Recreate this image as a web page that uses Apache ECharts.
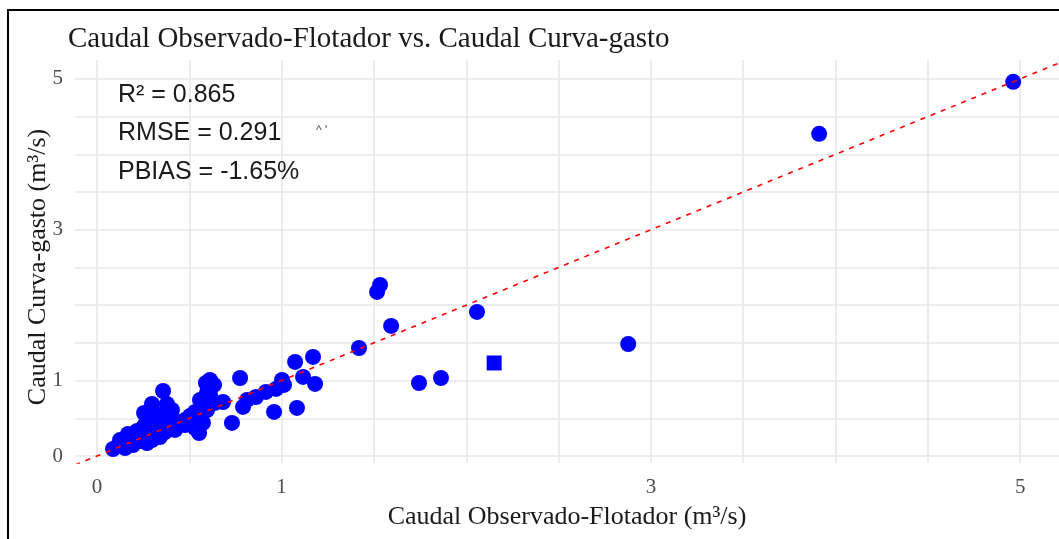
<!DOCTYPE html>
<html>
<head>
<meta charset="utf-8">
<script src="https://cdn.jsdelivr.net/npm/echarts@6/dist/echarts.min.js"></script>
<style>
  html, body { margin: 0; padding: 0; background: #fff; }
  #chart { width: 1059px; height: 539px; }
</style>
</head>
<body>
<div id="chart"></div>
<script>
// Caudal observado con flotador (x) frente a caudal de la curva de gasto (y), m³/s
const obsFlotador = [
  0.087, 0.114, 0.135, 0.125, 0.157, 0.179, 0.168, 0.200, 0.217, 0.233,
  0.249, 0.260, 0.276, 0.287, 0.303, 0.325, 0.341, 0.352, 0.233, 0.195,
  0.152, 0.260, 0.287, 0.314, 0.341, 0.368, 0.395, 0.423, 0.450, 0.477,
  0.504, 0.531, 0.547, 0.558, 0.531, 0.504, 0.477, 0.439, 0.395, 0.368,
  0.341, 0.298, 0.271, 0.358, 0.379, 0.298, 0.255, 0.406, 0.574, 0.553,
  0.612, 0.639, 0.596, 0.612, 0.634, 0.590, 0.731, 0.791, 0.813, 0.861,
  0.915, 0.970, 1.013, 1.002, 0.775, 0.959, 0.683, 0.558, 0.596, 1.083,
  1.073, 1.170, 1.116, 1.181, 1.419, 1.517, 1.533, 1.593, 1.744, 1.863,
  2.058, 2.877, 3.911, 4.962
];
const curvaGasto = [
  0.093, 0.133, 0.159, 0.212, 0.199, 0.239, 0.292, 0.265, 0.332, 0.305,
  0.371, 0.411, 0.345, 0.424, 0.477, 0.504, 0.544, 0.451, 0.199, 0.146,
  0.106, 0.252, 0.305, 0.358, 0.411, 0.464, 0.424, 0.345, 0.451, 0.477,
  0.531, 0.584, 0.504, 0.411, 0.371, 0.477, 0.411, 0.424, 0.371, 0.318,
  0.252, 0.212, 0.172, 0.862, 0.690, 0.690, 0.570, 0.610, 0.438, 0.305,
  0.809, 0.703, 0.610, 1.008, 0.942, 0.968, 0.438, 0.650, 0.743, 0.782,
  0.849, 0.889, 0.942, 1.008, 1.034, 0.584, 0.716, 0.743, 0.836, 0.637,
  1.247, 1.313, 1.048, 0.955, 1.432, 2.175, 2.268, 1.724, 0.968, 1.034,
  1.910, 1.485, 4.271, 4.960
];
// point drawn with a square marker
const squareX = [2.151];
const squareY = [1.233];

// axis labels and grid positions
const xTickLabels = [0, 1, 3, 5];
const yTickLabels = [0, 1, 3, 5];
const xGridLines = [0, 0.5, 1, 1.5, 2, 2.5, 3, 3.5, 4, 4.5, 5];
const yGridLines = [0, 0.5, 1, 1.5, 2, 2.5, 3, 3.5, 4, 4.5, 5];

// 1:1 reference line
const lineX = [-1, 7];
const lineY = [-1, 7];

// fit statistics
const statsLabels = ['R\u00B2 = 0.865', 'RMSE = 0.291', 'PBIAS = -1.65%'];

const chart = echarts.init(document.getElementById('chart'), null, { renderer: 'canvas' });

const gridColor = '#e8e8e8';
const serif = '"Liberation Serif", "DejaVu Serif", serif';
const sans = '"Liberation Sans", Arial, sans-serif';

const pts = obsFlotador.map((x, i) => [x, curvaGasto[i]]);
const sq = squareX.map((x, i) => [x, squareY[i]]);

const option = {
  animation: false,
  backgroundColor: '#ffffff',
  grid: { left: 75, right: 0, top: 60, bottom: 76, containLabel: false },
  xAxis: {
    type: 'value',
    min: -0.119, max: 5.21,
    axisLine: { show: false },
    axisTick: { show: false },
    splitLine: { show: false },
    axisLabel: {
      customValues: xTickLabels,
      formatter: v => String(v),
      color: '#4d4d4d', fontFamily: serif, fontSize: 21, margin: 14
    }
  },
  yAxis: {
    type: 'value',
    min: -0.093, max: 5.25,
    axisLine: { show: false },
    axisTick: { show: false },
    splitLine: { show: false },
    axisLabel: {
      customValues: yTickLabels,
      formatter: v => String(v),
      color: '#4d4d4d', fontFamily: serif, fontSize: 21, margin: 12
    }
  },
  series: [
    {
      name: 'grid',
      type: 'scatter',
      data: [],
      silent: true,
      z: 0,
      markLine: {
        silent: true,
        z: 0,
        symbol: ['none', 'none'],
        label: { show: false },
        animation: false,
        lineStyle: { color: gridColor, width: 1.6, type: 'solid' },
        data: xGridLines.map(v => ({ xAxis: v })).concat(yGridLines.map(v => ({ yAxis: v })))
      }
    },
    {
      name: '1:1',
      type: 'line',
      data: lineX.map((x, i) => [x, lineY[i]]),
      showSymbol: false,
      symbol: 'none',
      clip: true,
      z: 4,
      lineStyle: { color: '#ff0000', width: 1.6, type: [5, 6] }
    },
    {
      name: 'Caudal',
      type: 'scatter',
      data: pts,
      symbol: 'circle',
      symbolSize: 16,
      z: 3,
      itemStyle: { color: '#0000ff', opacity: 1 }
    },
    {
      name: 'Caudal (sq)',
      type: 'scatter',
      data: sq,
      symbol: 'rect',
      symbolSize: 15,
      z: 3,
      itemStyle: { color: '#0000ff', opacity: 1 }
    }
  ],
  graphic: [
    {
      type: 'rect', silent: true, z: 100,
      shape: { x: 8, y: 10, width: 1200, height: 700 },
      style: { fill: 'none', stroke: '#000000', lineWidth: 2 }
    },
    {
      type: 'text', silent: true, z: 100,
      style: {
        x: 68, y: 39, text: 'Caudal Observado-Flotador vs. Caudal Curva-gasto',
        font: '29px ' + serif, fill: '#1a1a1a', textVerticalAlign: 'middle'
      }
    },
    {
      type: 'text', silent: true, z: 100,
      style: {
        x: 567, y: 517, text: 'Caudal Observado-Flotador (m\u00B3/s)',
        font: '26px ' + serif, fill: '#1a1a1a', textAlign: 'center', textVerticalAlign: 'middle'
      }
    },
    {
      type: 'text', silent: true, z: 100,
      x: 38, y: 267, rotation: Math.PI / 2,
      style: {
        x: 0, y: 0, text: 'Caudal Curva-gasto (m\u00B3/s)',
        font: '26px ' + serif, fill: '#1a1a1a', textAlign: 'center', textVerticalAlign: 'middle'
      }
    }
  ].concat(statsLabels.map((t, i) => ({
    type: 'text', silent: true, z: 100,
    style: {
      x: 118, y: 95 + i * 38.5, text: t,
      font: '25px ' + sans, fill: '#1a1a1a', textVerticalAlign: 'middle'
    }
  }))).concat([
    {
      type: 'text', silent: true, z: 100,
      style: { x: 316, y: 125, text: '^ \u02B9', font: '12px ' + sans, fill: '#555555' }
    }
  ])
};

chart.setOption(option);
</script>
</body>
</html>
